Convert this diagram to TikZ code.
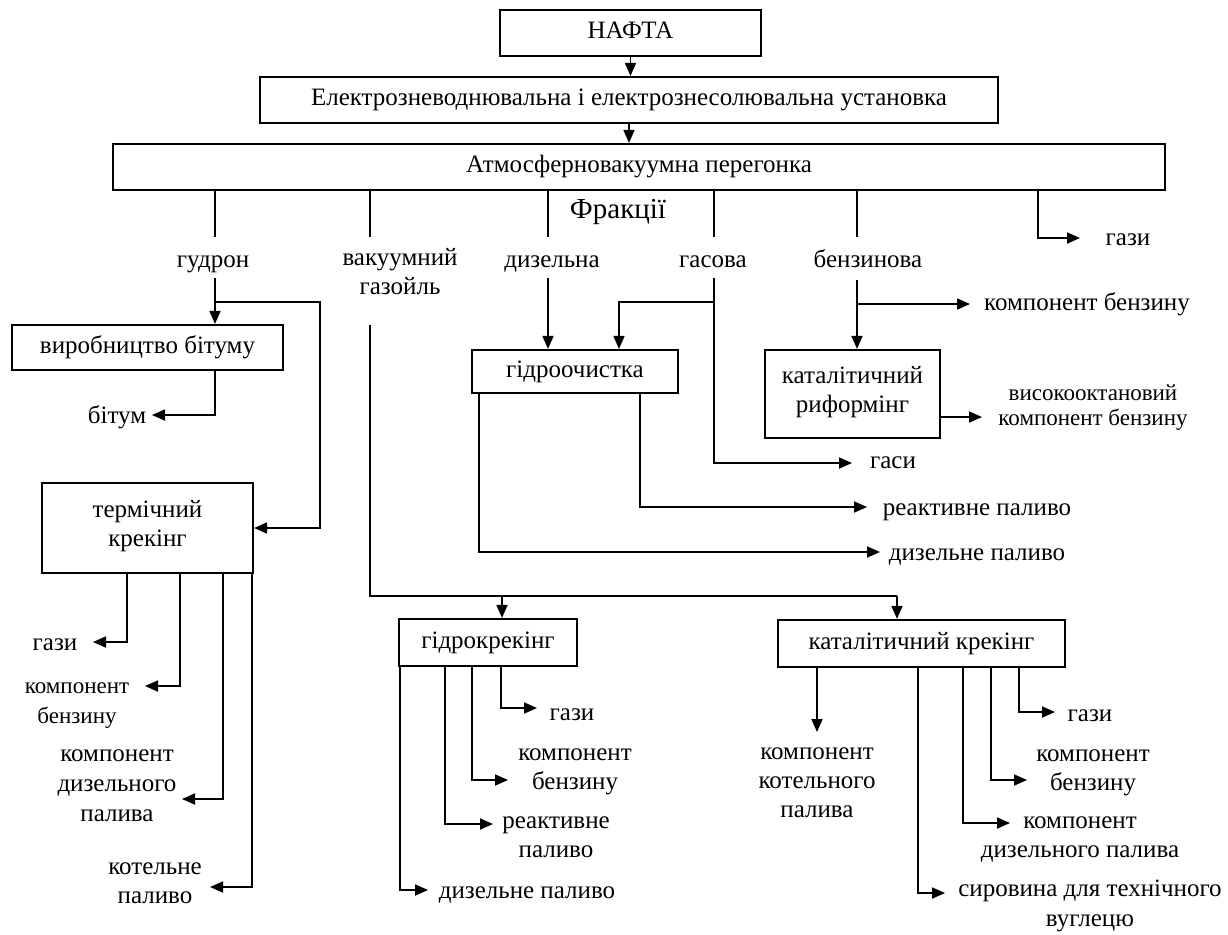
\documentclass[tikz,border=0pt]{standalone}
\usepackage{fontspec}
\setmainfont{Liberation Serif}
\usetikzlibrary{arrows.meta}
\begin{document}
\begin{tikzpicture}[x=0.5pt,y=-0.5pt,
  font=\fontsize{12.5}{14.5}\selectfont,
  box/.style={draw, line width=1.1pt, inner sep=0pt, align=center,
    execute at begin node=\strut, execute at end node=\strut},
  lab/.style={inner sep=0pt, align=center,
    execute at begin node=\strut, execute at end node=\strut},
  con/.style={line width=0.85pt},
  arr/.style={con, -{Triangle[length=6.5pt,width=5.5pt]}},
]
\fill[white] (0,0) rectangle (1228,934);
\useasboundingbox (0,0) rectangle (1228,934);

% main boxes
\node[box, minimum width=130.5pt, minimum height=23pt] (nafta) at (630.5,33) {НАФТА};
\node[box, minimum width=369pt, minimum height=23pt] (electro) at (629,100) {Електрозневоднювальна і електрознесолювальна установка};
\node[box, minimum width=526pt, minimum height=23pt] (atmos) at (639,167) {Атмосферновакуумна перегонка};

% fractions
\node[lab, font=\fontsize{14.5}{16}\selectfont] (fr) at (618,212) {Фракції};
\node[lab] (gud) at (213,262) {гудрон};
\node[lab] (vac) at (400,276) {вакуумний\\газойль};
\node[lab] (diz) at (552,262) {дизельна};
\node[lab] (gas) at (713,262) {гасова};
\node[lab] (benz) at (868,262) {бензинова};
\node[lab] (gazi0) at (1128,240) {гази};

% process boxes
\node[box, minimum width=135.5pt, minimum height=22.5pt] (bitum) at (147.5,347.5) {виробництво бітуму};
\node[box, minimum width=105.5pt, minimum height=45pt] (term) at (147.5,528) {термічний\\крекінг};
\node[box, minimum width=103pt, minimum height=21.5pt] (hydro) at (575,371.5) {гідроочистка};
\node[box, minimum width=87.5pt, minimum height=44pt] (reform) at (852.5,394) {каталітичний\\риформінг};
\node[box, minimum width=89pt, minimum height=23.5pt] (hcrack) at (488,642.5) {гідрокрекінг};
\node[box, minimum width=143.5pt, minimum height=23.5pt] (ccrack) at (921.5,643.5) {каталітичний крекінг};

% output labels
\node[lab] (bit) at (117,418) {бітум};
\node[lab] (kb1) at (1087,305) {компонент бензину};
\node[lab, font=\fontsize{11.5}{12.5}\selectfont] (vok) at (1093,409) {високооктановий\\компонент бензину};
\node[lab] (gasi) at (893,463) {гаси};
\node[lab] (reak1) at (977,510) {реактивне паливо};
\node[lab] (diz1) at (977,555) {дизельне паливо};

\node[lab] (tg) at (55,645) {гази};
\node[lab, font=\fontsize{11.5}{15}\selectfont] (tkb) at (77,708) {компонент\\бензину};
\node[lab, font=\fontsize{12.5}{15}\selectfont] (tkd) at (117,790) {компонент\\дизельного\\палива};
\node[lab] (tkp) at (155,887) {котельне\\паливо};

\node[lab] (hg) at (572,715) {гази};
\node[lab] (hkb) at (575,773) {компонент\\бензину};
\node[lab] (hrp) at (556,841) {реактивне\\паливо};
\node[lab] (hdp) at (527,893) {дизельне паливо};

\node[lab] (ckk) at (817,787) {компонент\\котельного\\палива};
\node[lab] (cg) at (1090,716) {гази};
\node[lab] (ckb) at (1093,774) {компонент\\бензину};
\node[lab] (ckd) at (1080,841) {компонент\\дизельного палива};
\node[lab, font=\fontsize{12.5}{15}\selectfont] (csy) at (1090,908) {сировина для технічного\\вуглецю};

% connectors: top chain
\draw[arr] (nafta.south) -- (nafta.south |- electro.north);
\draw[arr] (electro.south) -- (electro.south |- atmos.north);

% atmos to fractions
\draw[con] (atmos.south -| 215,0) -- ++(0,46);
\draw[con] (atmos.south -| 370,0) -- ++(0,46);
\draw[con] (atmos.south -| 548,0) -- ++(0,46);
\draw[con] (atmos.south -| 714,0) -- ++(0,46);
\draw[con] (atmos.south -| 857,0) -- ++(0,46);
\draw[arr] (atmos.south -| 1038,0) |- (1080,238);

% gudron
\draw[arr] (215,278) -- (bitum.north -| 215,0);
\draw[arr] (215,302) -- (320,302) |- (term.east);
\draw[arr] (bitum.south -| 215,0) |- (152,415);

% dyzelna, gasova
\draw[arr] (548,278) -- (hydro.north -| 548,0);
\draw[arr] (714,278) |- (619,302) -- (hydro.north -| 619,0);
\draw[arr] (714,300) |- (852,463);

% benzynova
\draw[arr] (857,280) -- (reform.north -| 857,0);
\draw[arr] (857,304) -- (970,304);
\draw[arr] (reform.east |- 0,417) -- (982,417);

% hydro outputs
\draw[arr] (hydro.south -| 640,0) |- (867,507);
\draw[arr] (hydro.south -| 479,0) |- (880,552);

% vacuum gasoil
\draw[con] (370,325) |- (897,596);
\draw[arr] (502,596) -- (hcrack.north -| 502,0);
\draw[arr] (897,596) -- (ccrack.north -| 897,0);

% thermal cracking outputs
\draw[arr] (term.south -| 127,0) |- (93,642);
\draw[arr] (term.south -| 180,0) |- (145,686);
\draw[arr] (term.south -| 223,0) |- (182,799);
\draw[arr] (term.south -| 252,0) |- (210,887);

% hydrocracking outputs
\draw[arr] (hcrack.south -| 400,0) |- (428,890);
\draw[arr] (hcrack.south -| 445,0) |- (493,824);
\draw[arr] (hcrack.south -| 472,0) |- (508,780);
\draw[arr] (hcrack.south -| 501,0) |- (537,708);

% catalytic cracking outputs
\draw[arr] (ccrack.south -| 817,0) -- (817,732);
\draw[arr] (ccrack.south -| 918,0) |- (945,893);
\draw[arr] (ccrack.south -| 963,0) |- (1010,823);
\draw[arr] (ccrack.south -| 991,0) |- (1027,780);
\draw[arr] (ccrack.south -| 1019,0) |- (1055,712);
\end{tikzpicture}
\end{document}
